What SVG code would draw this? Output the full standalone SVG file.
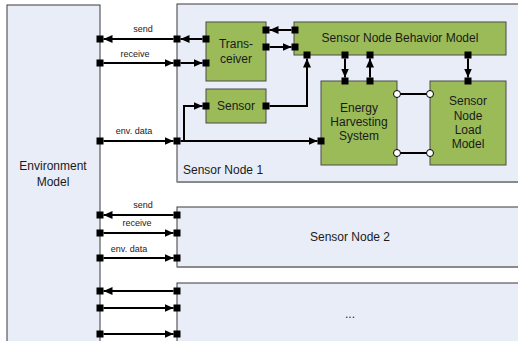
<svg xmlns="http://www.w3.org/2000/svg" width="518" height="341" viewBox="0 0 518 341">
<defs>
<style>
.blue{fill:#E9EDF8;stroke:#3a3a3a;stroke-width:1}
.shadow{stroke:#8a8a8a;stroke-width:2;fill:none}
.green{fill:#9BBB59;stroke:#4a4a4a;stroke-width:1}
.port{fill:#000}
.circ{fill:#fff;stroke:#000;stroke-width:1}
.t{font-family:"Liberation Sans",Arial,sans-serif;font-size:12px;fill:#1a1a1a;text-anchor:middle}
.tl{font-family:"Liberation Sans",Arial,sans-serif;font-size:12px;fill:#1a1a1a}
.lbl{font-family:"Liberation Sans",Arial,sans-serif;font-size:9px;fill:#1a1a1a;text-anchor:middle}
.c{stroke:#000;stroke-width:2;fill:none}
.a{marker-end:url(#arr)}
</style>
<marker id="arr" markerUnits="userSpaceOnUse" markerWidth="10" markerHeight="9" refX="9" refY="4" orient="auto">
<path d="M0,0 L9,4 L0,8 z" fill="#000"/>
</marker>
</defs>
<rect width="518" height="341" fill="#fff"/>

<g id="environment-model">
<rect class="blue" x="7" y="5" width="93" height="345"/>
<text class="t" x="53" y="170">Environment</text>
<text class="t" x="53" y="186">Model</text>
<rect class="port" x="96.5" y="35.5" width="7" height="7"/>
<rect class="port" x="96.5" y="59.5" width="7" height="7"/>
<rect class="port" x="96.5" y="137.5" width="7" height="7"/>
<rect class="port" x="96.5" y="211.5" width="7" height="7"/>
<rect class="port" x="96.5" y="229.5" width="7" height="7"/>
<rect class="port" x="96.5" y="254.5" width="7" height="7"/>
<rect class="port" x="96.5" y="287.5" width="7" height="7"/>
<rect class="port" x="96.5" y="304.5" width="7" height="7"/>
<rect class="port" x="96.5" y="330.5" width="7" height="7"/>
</g>

<g id="sensor-node-1">
<rect class="blue" x="177" y="4" width="345" height="178"/>
<line class="shadow" x1="177" y1="182" x2="518" y2="182"/>
<text class="tl" x="183" y="174">Sensor Node 1</text>
<rect class="port" x="173.5" y="35.5" width="7" height="7"/>
<rect class="port" x="173.5" y="59.5" width="7" height="7"/>
<rect class="port" x="173.5" y="137.5" width="7" height="7"/>
</g>

<g id="transceiver">
<rect class="green" x="206" y="22" width="60" height="59"/>
<text class="t" x="236" y="48">Trans-</text>
<text class="t" x="236" y="63">ceiver</text>
<rect class="port" x="202.5" y="35.5" width="7" height="7"/>
<rect class="port" x="202.5" y="59.5" width="7" height="7"/>
<rect class="port" x="262.5" y="26.5" width="7" height="7"/>
<rect class="port" x="262.5" y="43.5" width="7" height="7"/>
</g>

<g id="sensor">
<rect class="green" x="206" y="89" width="60" height="34"/>
<text class="t" x="236" y="110">Sensor</text>
<rect class="port" x="202.5" y="102.5" width="7" height="7"/>
<rect class="port" x="262.5" y="102.5" width="7" height="7"/>
</g>

<g id="sensor-node-behavior-model">
<rect class="green" x="294" y="22" width="212" height="33"/>
<text class="t" x="400" y="42">Sensor Node Behavior Model</text>
<rect class="port" x="291.5" y="26.5" width="7" height="7"/>
<rect class="port" x="291.5" y="43.5" width="7" height="7"/>
<rect class="port" x="303.5" y="51.5" width="7" height="7"/>
<rect class="port" x="341.5" y="51.5" width="7" height="7"/>
<rect class="port" x="366.5" y="51.5" width="7" height="7"/>
<rect class="port" x="464.5" y="51.5" width="7" height="7"/>
</g>

<g id="energy-harvesting-system">
<rect class="green" x="321" y="81" width="76" height="84"/>
<text class="t" x="359" y="112">Energy</text>
<text class="t" x="359" y="126">Harvesting</text>
<text class="t" x="359" y="140">System</text>
<rect class="port" x="341.5" y="77.5" width="7" height="7"/>
<rect class="port" x="366.5" y="77.5" width="7" height="7"/>
<rect class="port" x="317.5" y="137.5" width="7" height="7"/>
</g>

<g id="sensor-node-load-model">
<rect class="green" x="430" y="81" width="76" height="84"/>
<text class="t" x="468" y="105">Sensor</text>
<text class="t" x="468" y="120">Node</text>
<text class="t" x="468" y="134">Load</text>
<text class="t" x="468" y="148">Model</text>
<rect class="port" x="464.5" y="77.5" width="7" height="7"/>
</g>

<g id="sensor-node-2">
<rect class="blue" x="177" y="207" width="345" height="60"/>
<line class="shadow" x1="177" y1="267" x2="518" y2="267"/>
<text class="t" x="350" y="241">Sensor Node 2</text>
<rect class="port" x="173.5" y="211.5" width="7" height="7"/>
<rect class="port" x="173.5" y="229.5" width="7" height="7"/>
<rect class="port" x="173.5" y="254.5" width="7" height="7"/>
</g>

<g id="sensor-node-n">
<rect class="blue" x="177" y="283" width="345" height="70"/>
<text class="t" x="350" y="318">...</text>
<rect class="port" x="173.5" y="287.5" width="7" height="7"/>
<rect class="port" x="173.5" y="304.5" width="7" height="7"/>
<rect class="port" x="173.5" y="330.5" width="7" height="7"/>
</g>

<g id="connectors">
<line class="c a" x1="173.5" y1="39" x2="103.5" y2="39"/>
<line class="c a" x1="202.5" y1="39" x2="180.5" y2="39"/>
<line class="c a" x1="103.5" y1="63" x2="173.5" y2="63"/>
<line class="c a" x1="180.5" y1="63" x2="202.5" y2="63"/>
<line class="c a" x1="103.5" y1="141" x2="173.5" y2="141"/>
<line class="c a" x1="180.5" y1="141" x2="317.5" y2="141"/>
<polyline class="c a" points="184,141 184,106 202.5,106"/>
<polyline class="c a" points="269.5,106 307,106 307,58.5"/>
<line class="c a" x1="291.5" y1="30" x2="269.5" y2="30"/>
<line class="c a" x1="269.5" y1="47" x2="291.5" y2="47"/>
<line class="c a" x1="345" y1="58.5" x2="345" y2="77.5"/>
<line class="c a" x1="370" y1="77.5" x2="370" y2="58.5"/>
<line class="c a" x1="468" y1="58.5" x2="468" y2="77.5"/>
<line class="c" x1="397" y1="94" x2="430" y2="94"/>
<line class="c" x1="397" y1="153" x2="430" y2="153"/>
<circle class="circ" cx="397" cy="94" r="3.5"/>
<circle class="circ" cx="430" cy="94" r="3.5"/>
<circle class="circ" cx="397" cy="153" r="3.5"/>
<circle class="circ" cx="430" cy="153" r="3.5"/>
<line class="c a" x1="173.5" y1="215" x2="103.5" y2="215"/>
<line class="c a" x1="103.5" y1="233" x2="173.5" y2="233"/>
<line class="c a" x1="103.5" y1="258" x2="173.5" y2="258"/>
<line class="c a" x1="173.5" y1="291" x2="103.5" y2="291"/>
<line class="c a" x1="103.5" y1="308" x2="173.5" y2="308"/>
<line class="c a" x1="103.5" y1="334" x2="173.5" y2="334"/>
<text class="lbl" x="143" y="32">send</text>
<text class="lbl" x="135" y="57">receive</text>
<text class="lbl" x="134" y="134">env. data</text>
<text class="lbl" x="143" y="208">send</text>
<text class="lbl" x="137" y="226">receive</text>
<text class="lbl" x="129" y="252">env. data</text>
</g>
</svg>
